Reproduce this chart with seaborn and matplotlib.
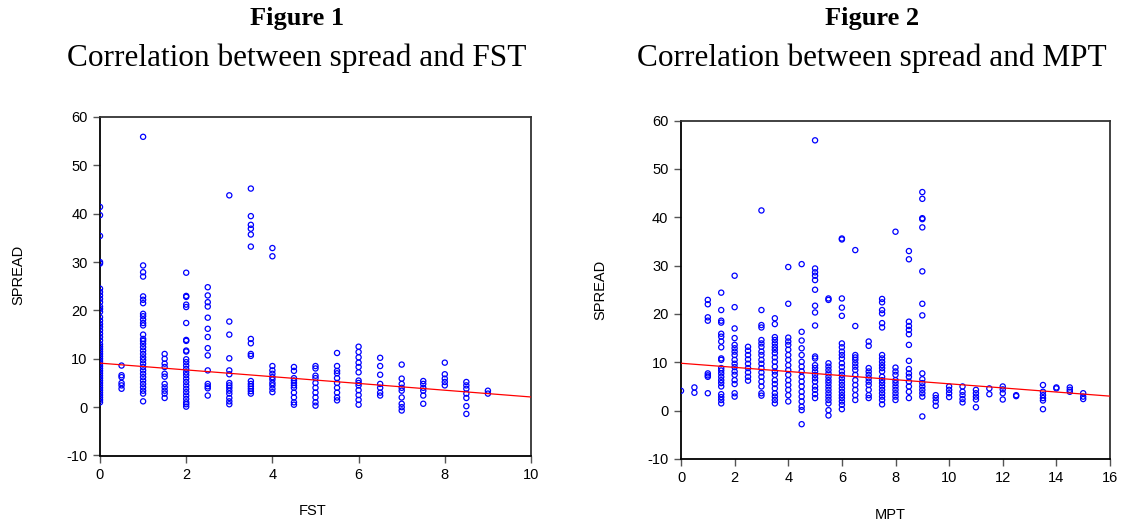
import matplotlib
matplotlib.use("Agg")
import matplotlib.pyplot as plt
import seaborn as sns
import pandas as pd

# ---------------- data ----------------
fst_levels = [0, 0.5, 1, 1.5, 2, 2.5, 3, 3.5, 4, 4.5, 5, 5.5, 6, 6.5, 7, 7.5, 8, 8.5, 9]
fst_spread = [
    [41.4, 39.7, 35.4, 30.0, 29.7, 24.5, 23.8, 23.1, 22.4, 21.7, 20.8, 20.3, 19.7, 18.6, 17.9, 17.2, 16.6,
     15.9, 15.2, 14.5, 13.8, 13.0, 12.5, 12.0, 11.5, 11.0, 10.5, 10.0, 9.5, 9.0, 8.5, 8.0, 7.5, 7.0, 6.5,
     6.0, 5.5, 5.0, 4.5, 4.0, 3.5, 3.0, 2.5, 2.0, 1.5, 1.0],
    [8.6, 6.6, 6.2, 5.0, 4.5, 3.8],
    [55.9, 29.3, 27.9, 27.0, 22.9, 22.2, 21.5, 19.3, 18.8, 18.1, 17.4, 16.9, 15.0, 14.1, 13.7, 13.1, 12.4,
     11.7, 11.0, 10.3, 9.7, 9.0, 8.3, 7.6, 6.9, 6.2, 5.5, 4.8, 4.1, 3.4, 2.8, 1.2],
    [11.0, 10.0, 9.0, 8.3, 6.9, 6.3, 4.8, 4.1, 3.4, 2.8, 1.9],
    [27.8, 23.0, 22.8, 21.2, 20.7, 17.4, 13.9, 13.7, 11.7, 11.5, 9.9, 9.3, 8.6, 7.9, 7.2, 6.6, 5.9, 5.2,
     4.5, 3.8, 3.1, 2.4, 1.7, 1.0, 0.6, 0.1],
    [24.8, 23.1, 21.7, 20.8, 18.5, 16.2, 14.5, 12.2, 10.7, 7.6, 4.8, 4.3, 3.9, 2.4],
    [43.8, 17.7, 15.0, 10.1, 7.6, 6.8, 5.0, 4.5, 4.0, 3.4, 2.8, 1.9, 1.2, 0.6],
    [45.2, 39.5, 37.7, 36.9, 35.7, 33.2, 14.1, 13.2, 11.0, 10.6, 5.4, 4.8, 4.3, 3.8, 3.3, 2.8],
    [32.9, 31.2, 8.5, 7.6, 6.9, 6.2, 5.7, 5.0, 4.5, 3.8, 3.1],
    [8.3, 7.5, 6.0, 5.5, 5.0, 4.5, 4.0, 3.0, 2.0, 1.0, 0.5],
    [8.5, 8.0, 6.5, 6.0, 5.0, 4.0, 3.0, 2.0, 1.0, 0.3],
    [11.2, 8.5, 7.5, 7.0, 6.0, 5.0, 4.0, 3.0, 2.0, 1.4],
    [12.5, 11.4, 10.3, 9.2, 8.3, 7.2, 5.5, 5.0, 4.5, 3.5, 2.5, 1.5, 0.5],
    [10.2, 8.5, 6.7, 4.8, 4.0, 3.0, 2.4],
    [8.8, 5.9, 4.8, 4.0, 3.4, 2.0, 0.7, 0.0, -0.7],
    [5.4, 4.8, 4.0, 3.4, 2.4, 0.7],
    [9.2, 6.8, 5.9, 5.2, 4.5],
    [5.2, 4.5, 3.8, 2.8, 1.9, 0.2, -1.4],
    [3.4, 2.8],
]
fst_fit_x = [0, 10]
fst_fit_y = [9.1, 2.1]

mpt_levels = [0, 0.5, 1, 1.5, 2, 2.5, 3, 3.5, 4, 4.5, 5, 5.5, 6, 6.5, 7, 7.5, 8, 8.5, 9,
              9.5, 10, 10.5, 11, 11.5, 12, 12.5, 13.5, 14, 14.5, 15]
mpt_spread = [
    [4.1],
    [4.8, 3.7],
    [22.9, 22.0, 19.3, 18.6, 7.7, 7.3, 7.0, 3.6],
    [24.4, 20.8, 18.6, 18.2, 15.9, 15.3, 14.3, 13.1, 10.8, 10.5, 8.8, 8.3, 7.7, 7.0, 6.3, 5.7, 5.0, 3.4,
     2.8, 2.2, 1.5],
    [27.9, 21.4, 17.0, 15.0, 13.6, 12.9, 12.2, 11.5, 10.5, 9.7, 9.0, 8.1, 7.4, 6.3, 5.5, 3.6, 2.9],
    [13.2, 12.4, 11.5, 10.6, 9.7, 8.8, 7.9, 7.0, 6.2],
    [41.4, 20.8, 17.7, 17.2, 14.6, 13.9, 13.2, 12.2, 11.5, 10.5, 9.7, 8.8, 7.9, 7.0, 6.0, 5.0, 3.6, 3.1],
    [19.1, 17.9, 15.2, 14.6, 13.9, 13.2, 12.6, 11.9, 11.0, 10.1, 9.1, 8.1, 7.4, 6.3, 5.5, 4.6, 3.6, 2.9,
     2.2, 1.5],
    [29.7, 22.1, 15.1, 14.3, 13.6, 12.6, 11.5, 10.5, 9.4, 8.4, 7.4, 6.3, 5.3, 4.3, 3.2, 1.9],
    [30.3, 16.3, 14.5, 12.9, 11.5, 10.1, 9.1, 8.1, 7.0, 6.0, 5.0, 3.9, 2.9, 1.9, 0.8, 0.1, -2.8],
    [55.9, 29.4, 28.6, 27.9, 27.0, 25.0, 21.7, 20.3, 17.6, 11.2, 10.8, 9.4, 8.8, 8.1, 7.4, 6.7, 6.0, 5.0,
     4.3, 3.4, 2.6],
    [23.2, 22.9, 9.8, 9.1, 8.4, 7.7, 7.0, 6.3, 5.7, 5.0, 4.3, 3.6, 2.9, 2.2, 1.5, 0.1, -1.0],
    [35.6, 35.4, 23.2, 21.3, 19.6, 13.9, 13.1, 12.2, 11.5, 10.8, 9.8, 9.0, 8.1, 7.4, 6.7, 6.0, 5.3, 4.6,
     3.9, 3.2, 2.6, 1.9, 1.2, 0.3],
    [33.2, 17.5, 11.5, 11.0, 10.5, 9.8, 9.1, 8.4, 7.4, 6.3, 5.3, 4.3, 3.2, 2.2],
    [14.3, 13.4, 8.8, 8.1, 7.4, 6.7, 6.0, 5.3, 4.3, 3.2, 2.6],
    [23.1, 22.4, 20.8, 20.1, 18.1, 17.2, 11.5, 10.8, 10.1, 9.4, 8.8, 8.1, 7.0, 6.3, 5.7, 5.0, 4.3, 3.6,
     2.9, 2.2, 1.3],
    [37.0, 8.9, 8.1, 7.4, 6.3, 5.7, 5.0, 4.3, 3.6, 2.9, 2.2],
    [33.0, 31.3, 18.4, 17.5, 16.7, 15.8, 13.6, 10.3, 8.6, 7.7, 7.0, 6.0, 5.0, 3.9, 2.6],
    [45.2, 43.8, 39.8, 39.6, 37.9, 28.8, 22.1, 19.7, 7.7, 6.5, 5.7, 5.0, 4.3, 3.6, 2.9, -1.2],
    [3.2, 2.6, 1.9, 1.0],
    [5.0, 4.3, 3.6, 2.8],
    [5.0, 3.9, 3.2, 2.4, 1.7],
    [4.3, 3.6, 2.9, 2.3, 0.7],
    [4.6, 3.4],
    [5.0, 4.4, 3.6, 2.3],
    [3.2, 3.0],
    [5.3, 3.9, 3.2, 2.6, 2.1, 0.3],
    [4.8, 4.6],
    [4.8, 4.3, 3.9],
    [3.6, 2.9, 2.4],
]
mpt_fit_x = [0, 16]
mpt_fit_y = [9.8, 3.0]

titles = ["Figure 1", "Figure 2"]
subtitles = ["Correlation between spread and FST", "Correlation between spread and MPT"]
xlabels = ["FST", "MPT"]
ylabel = "SPREAD"
fst_xticks = [0, 2, 4, 6, 8, 10]
mpt_xticks = [0, 2, 4, 6, 8, 10, 12, 14, 16]
yticks = [-10, 0, 10, 20, 30, 40, 50, 60]


def expand(levels, cols, name):
    xs, ys = [], []
    for lv, col in zip(levels, cols):
        for v in col:
            xs.append(lv)
            ys.append(v)
    return pd.DataFrame({name: xs, "SPREAD": ys})


fst_df = expand(fst_levels, fst_spread, "FST")
mpt_df = expand(mpt_levels, mpt_spread, "MPT")

# ---------------- plot ----------------
sns.set_style("white")
plt.rcParams["font.family"] = ["Liberation Sans", "DejaVu Sans"]
plt.rcParams["text.color"] = "black"

fig = plt.figure(figsize=(11.26, 5.25), dpi=100)
ax1 = fig.add_axes([100 / 1126, 1 - 455.5 / 525, 431 / 1126, 338.5 / 525])
ax2 = fig.add_axes([681 / 1126, 1 - 459 / 525, 429 / 1126, 338.5 / 525])

specs = [
    (ax1, fst_df, "FST", fst_fit_x, fst_fit_y, (0, 10), fst_xticks, 297, 313, 511, 18, 275),
    (ax2, mpt_df, "MPT", mpt_fit_x, mpt_fit_y, (0, 16), mpt_xticks, 872, 890, 515, 600, 290),
]

for i, (ax, df, xname, fx, fy, xlim, xt, tcx, xlx, xly, ylx, yly) in enumerate(specs):
    sns.scatterplot(data=df, x=xname, y="SPREAD", ax=ax, marker="o", s=14,
                    facecolor="none", edgecolor="#0000ff", linewidth=0.9, zorder=3)
    sns.lineplot(x=fx, y=fy, ax=ax, color="#ff0000", linewidth=0.9, zorder=4)
    ax.set_xlim(*xlim)
    ax.set_ylim(-10, 60)
    ax.set_xticks(xt)
    ax.set_yticks(yticks)
    ax.set_xticklabels([str(t) for t in xt])
    ax.set_yticklabels([str(t) for t in yticks])
    ax.tick_params(axis="both", direction="out", length=5, width=1, color="#555555",
                   labelsize=10.5, labelcolor="black", pad=4, left=True, bottom=True)
    ax.set_xlabel("")
    ax.set_ylabel("")
    for side in ["left", "bottom"]:
        ax.spines[side].set_color("black")
        ax.spines[side].set_linewidth(1.3)
    for side in ["top", "right"]:
        ax.spines[side].set_color("#333333")
        ax.spines[side].set_linewidth(1.3)
    ax.grid(False)

    fig.text(tcx / 1126, 1 - 19 / 525, titles[i], ha="center", va="center", color="black",
             family=["Liberation Serif", "DejaVu Serif"], fontsize=19, fontweight="bold")
    fig.text(tcx / 1126, 1 - 58 / 525, subtitles[i], ha="center", va="center", color="black",
             family=["Liberation Serif", "DejaVu Serif"], fontsize=22.5)
    fig.text(xlx / 1126, 1 - xly / 525, xlabels[i], ha="center", va="center", fontsize=10.5,
             color="black")
    fig.text(ylx / 1126, 1 - yly / 525, ylabel, ha="center", va="center", rotation=90,
             fontsize=10.5, color="black")

fig.savefig("out.png", dpi=100)
